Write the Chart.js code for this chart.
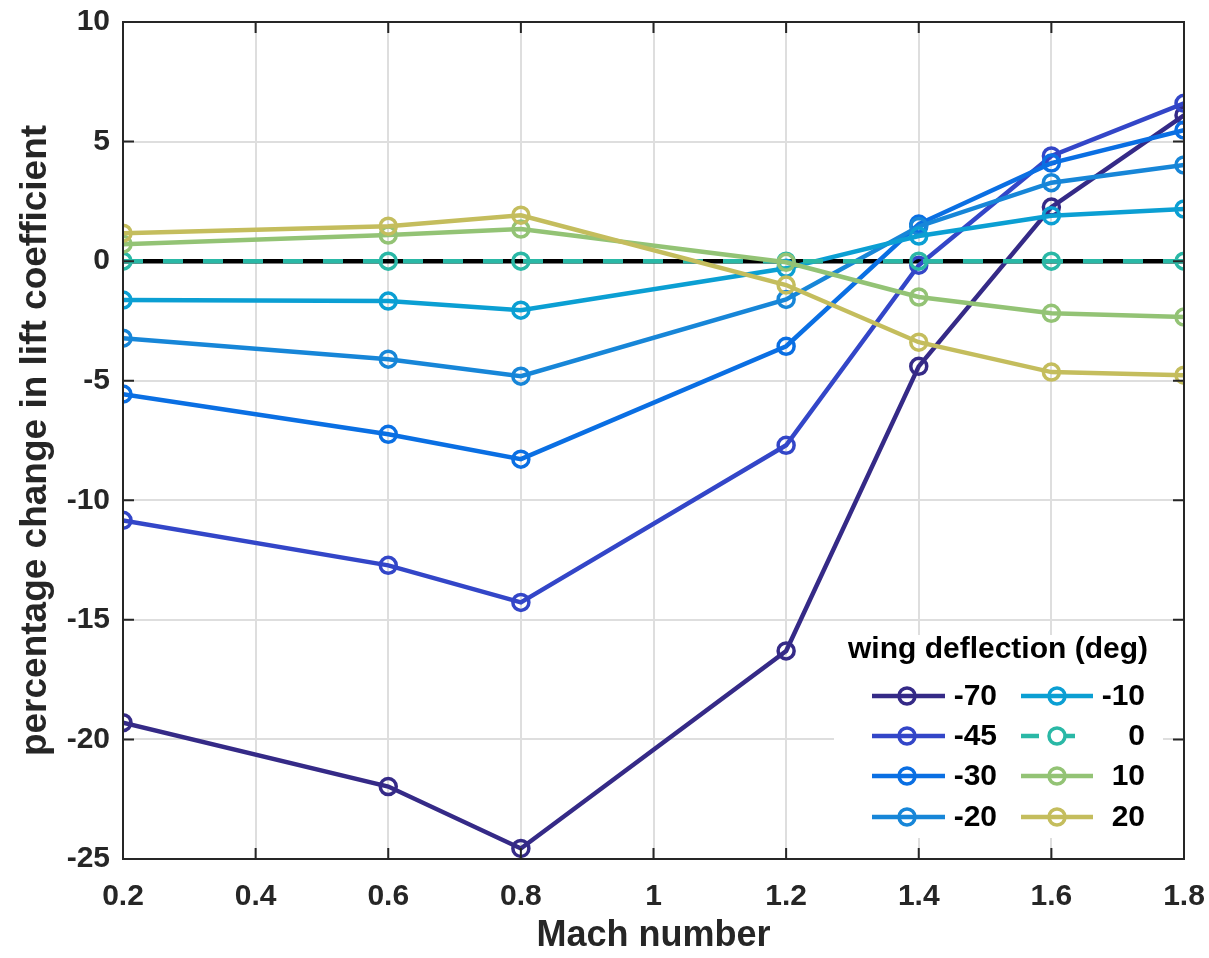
<!DOCTYPE html>
<html>
<head>
<meta charset="utf-8">
<script src="https://cdn.jsdelivr.net/npm/chart.js@4"></script>
<style>
  html, body { margin: 0; padding: 0; background: #fff; }
  #wrap { width: 1209px; height: 958px; }
</style>
</head>
<body>
<div id="wrap"><canvas id="c" width="1209" height="958"></canvas></div>
<script>
// Mach numbers and tick labels
const mach = [0.2, 0.6, 0.8, 1.2, 1.4, 1.6, 1.8];
const xTicks = [0.2, 0.4, 0.6, 0.8, 1, 1.2, 1.4, 1.6, 1.8];
const yTicks = [-25, -20, -15, -10, -5, 0, 5, 10];

// wing deflection (deg) -> percentage change in lift coefficient
const deflections = ['-70', '-45', '-30', '-20', '-10', '0', '10', '20'];
const d_m70 = [-19.3, -21.97, -24.56, -16.3, -4.4, 2.26, 6.1];
const d_m45 = [-10.84, -12.72, -14.27, -7.7, -0.17, 4.4, 6.6];
const d_m30 = [-5.56, -7.24, -8.28, -3.56, 1.55, 4.1, 5.48];
const d_m20 = [-3.22, -4.1, -4.81, -1.6, 1.45, 3.28, 4.02];
const d_m10 = [-1.63, -1.67, -2.05, -0.3, 1.05, 1.9, 2.18];
const d_0   = [0, 0, 0, 0, 0, 0, 0];
const d_p10 = [0.71, 1.09, 1.34, -0.05, -1.5, -2.18, -2.34];
const d_p20 = [1.17, 1.46, 1.92, -1.0, -3.39, -4.64, -4.77];
const series = [d_m70, d_m45, d_m30, d_m20, d_m10, d_0, d_p10, d_p20];
const colors = ['#352a87', '#3346c8', '#0a6fe3', '#1786d8', '#0b9fd3', '#2ab8a6', '#93c375', '#c4bd5d'];

const FONT = '"Liberation Sans", Arial, Helvetica, sans-serif';

const datasets = series.map((vals, i) => ({
  label: deflections[i],
  data: vals.map((v, k) => ({ x: mach[k], y: v })),
  borderColor: colors[i],
  backgroundColor: 'rgba(0,0,0,0)',
  pointBorderColor: colors[i],
  pointBackgroundColor: 'rgba(0,0,0,0)',
  borderWidth: 4.5,
  pointRadius: 8,
  pointBorderWidth: 3.5,
  borderDash: deflections[i] === '0' ? [20, 20] : [],
  order: 20 - i,
  inLegend: true
}));
// black reference line at zero
datasets.push({
  label: 'zero',
  data: [{ x: mach[0], y: 0 }, { x: mach[mach.length - 1], y: 0 }],
  borderColor: '#000',
  borderWidth: 4.5,
  pointRadius: 0,
  order: 100,
  inLegend: false
});

// box + inward ticks
const framePlugin = {
  id: 'frame',
  afterDatasetsDraw(chart) {
    const { ctx, chartArea: a, scales } = chart;
    ctx.save();
    ctx.strokeStyle = '#262626';
    ctx.lineWidth = 2;
    ctx.strokeRect(a.left, a.top, a.right - a.left, a.bottom - a.top);
    const len = 11;
    ctx.beginPath();
    xTicks.forEach(t => {
      const px = scales.x.getPixelForValue(t);
      ctx.moveTo(px, a.bottom); ctx.lineTo(px, a.bottom - len);
      ctx.moveTo(px, a.top); ctx.lineTo(px, a.top + len);
    });
    yTicks.forEach(t => {
      const py = scales.y.getPixelForValue(t);
      ctx.moveTo(a.left, py); ctx.lineTo(a.left + len, py);
      ctx.moveTo(a.right, py); ctx.lineTo(a.right - len, py);
    });
    ctx.stroke();
    ctx.restore();
  }
};

// legend inside the axes, two columns, column-major
const legendPlugin = {
  id: 'boxLegend',
  afterDraw(chart) {
    const ctx = chart.ctx;
    const items = chart.data.datasets.filter(d => d.inLegend);
    ctx.save();
    ctx.fillStyle = '#fff';
    ctx.fillRect(834, 635, 329, 203);
    ctx.fillStyle = '#000';
    ctx.font = 'bold 30px ' + FONT;
    ctx.textAlign = 'center';
    ctx.textBaseline = 'middle';
    ctx.fillText('wing deflection (deg)', 998, 650);
    const rows = [696, 736, 776, 817];
    const cols = [
      { x0: 872, x1: 945, mx: 907, lx: 997 },
      { x0: 1021, x1: 1093, mx: 1057, lx: 1145 }
    ];
    items.forEach((d, i) => {
      const c = cols[Math.floor(i / 4)];
      const y = rows[i % 4];
      ctx.strokeStyle = d.borderColor;
      ctx.lineWidth = 4.5;
      ctx.setLineDash(d.borderDash.length ? [18, 18] : []);
      ctx.beginPath();
      ctx.moveTo(c.x0, y); ctx.lineTo(c.x1, y);
      ctx.stroke();
      ctx.setLineDash([]);
      ctx.lineWidth = 3.5;
      ctx.beginPath();
      ctx.arc(c.mx, y, 8, 0, Math.PI * 2);
      ctx.fillStyle = '#fff';
      if (d.borderDash.length) ctx.fill();
      ctx.stroke();
      ctx.fillStyle = '#000';
      ctx.textAlign = 'right';
      ctx.fillText(d.label, c.lx, y + 1);
    });
    ctx.restore();
  }
};

new Chart(document.getElementById('c'), {
  type: 'line',
  data: { datasets },
  plugins: [framePlugin, legendPlugin],
  options: {
    responsive: false,
    animation: false,
    layout: { padding: { top: 22, right: 25, left: 0, bottom: 0 } },
    plugins: { legend: { display: false }, tooltip: { enabled: false } },
    scales: {
      x: {
        type: 'linear',
        min: 0.2, max: 1.8,
        afterBuildTicks: s => { s.ticks = xTicks.map(v => ({ value: v })); },
        afterFit: s => { s.height = 99; s.paddingLeft = 0; s.paddingRight = 0; },
        grid: { color: '#dedede', lineWidth: 2, drawTicks: false },
        border: { display: false },
        ticks: {
          color: '#262626', padding: 20,
          font: { family: FONT, size: 30, weight: 'bold' },
          callback: v => String(v)
        },
        title: {
          display: true, text: 'Mach number', color: '#262626',
          font: { family: FONT, size: 36, weight: 'bold' },
          padding: { top: 6, bottom: 0 }
        }
      },
      y: {
        min: -25, max: 10,
        afterBuildTicks: s => { s.ticks = yTicks.map(v => ({ value: v })); },
        afterFit: s => { s.width = 123; s.paddingTop = 0; s.paddingBottom = 0; },
        grid: { color: '#dedede', lineWidth: 2, drawTicks: false },
        border: { display: false },
        ticks: {
          color: '#262626', padding: 13,
          font: { family: FONT, size: 30, weight: 'bold' },
          callback: v => String(v)
        },
        title: {
          display: true, text: 'percentage change in lift coefficient', color: '#262626',
          font: { family: FONT, size: 37, weight: 'bold' },
          padding: { top: 14, bottom: 0 }
        }
      }
    }
  }
});
</script>
</body>
</html>
